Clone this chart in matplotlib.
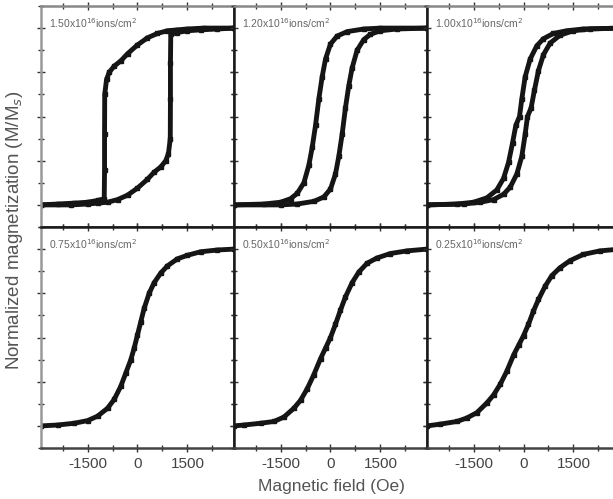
"""
plot.py

Normalized hysteresis loops for six ion fluences.
"""

import matplotlib.pyplot as plt
import numpy as np
from matplotlib.ticker import MultipleLocator


plt.rcParams["font.family"] = ["Liberation Sans", "DejaVu Sans"]
plt.rcParams["axes.unicode_minus"] = False

fluence_labels = [
    "1.50x10$^{16}$ions/cm$^{2}$",
    "1.20x10$^{16}$ions/cm$^{2}$",
    "1.00x10$^{16}$ions/cm$^{2}$",
    "0.75x10$^{16}$ions/cm$^{2}$",
    "0.50x10$^{16}$ions/cm$^{2}$",
    "0.25x10$^{16}$ions/cm$^{2}$",
]

# 1.50e16: square loop with abrupt switching (upper branch, read left to right)
h_150 = [-2900, -2400, -1900, -1500, -1200, -1000, -990, -990, -985, -930,
         -850, -700, -500, -300, 0, 300, 600, 900, 1200, 1500, 2000, 2900]
m_150 = [-1.00, -0.99, -0.98, -0.97, -0.95, -0.93, -0.60, -0.20, 0.25, 0.42,
         0.50, 0.57, 0.63, 0.71, 0.81, 0.89, 0.94, 0.97, 0.98, 0.99, 1.00, 1.00]

# 1.20e16: open S loop (descending branch)
h_120 = [-2900, -2000, -1500, -1200, -1000, -800, -650, -550, -450, -350,
         -250, -150, 0, 200, 500, 1000, 1500, 2900]
m_120 = [-1.00, -0.99, -0.97, -0.93, -0.87, -0.75, -0.55, -0.35, -0.10, 0.20,
         0.45, 0.65, 0.82, 0.91, 0.96, 0.99, 1.00, 1.00]

# 1.00e16: narrow loop (descending branch)
h_100 = [-2900, -2000, -1500, -1100, -800, -600, -450, -330, -230, -120,
         -50, 50, 200, 400, 600, 900, 1300, 1800, 2900]
m_100 = [-1.00, -0.99, -0.97, -0.92, -0.83, -0.70, -0.52, -0.30, -0.10, 0.00,
         0.20, 0.45, 0.65, 0.80, 0.88, 0.94, 0.97, 0.99, 1.00]

# 0.75e16
h_075 = [-2900, -2400, -1900, -1500, -1200, -900, -700, -500, -350, -200,
         -100, 0, 100, 200, 350, 500, 700, 900, 1200, 1500, 1900, 2400, 2900]
m_075 = [-1.00, -0.99, -0.97, -0.94, -0.89, -0.80, -0.70, -0.55, -0.40, -0.25,
         -0.12, 0.03, 0.18, 0.33, 0.50, 0.62, 0.73, 0.81, 0.89, 0.93, 0.97,
         0.99, 1.00]

# 0.50e16
h_050 = [-2900, -2600, -2100, -1700, -1400, -1100, -900, -700, -500, -300,
         -150, 0, 150, 300, 450, 650, 850, 1100, 1400, 1800, 2300, 2900]
m_050 = [-1.00, -0.99, -0.97, -0.95, -0.90, -0.80, -0.71, -0.58, -0.42, -0.24,
         -0.12, 0.00, 0.15, 0.31, 0.46, 0.62, 0.74, 0.84, 0.90, 0.95, 0.98,
         1.00]

# 0.25e16
h_025 = [-2900, -2500, -2000, -1700, -1400, -1100, -900, -700, -500, -300,
         -150, 0, 150, 300, 450, 650, 850, 1100, 1400, 1800, 2300, 2900]
m_025 = [-1.00, -0.98, -0.95, -0.91, -0.85, -0.74, -0.65, -0.53, -0.38, -0.20,
         -0.09, 0.02, 0.15, 0.30, 0.43, 0.58, 0.70, 0.79, 0.87, 0.94, 0.98,
         1.00]

loops = [
    (h_150, m_150, True),
    (h_120, m_120, True),
    (h_100, m_100, True),
    (h_075, m_075, False),
    (h_050, m_050, False),
    (h_025, m_025, False),
]

fig = plt.figure(figsize=(6.13, 4.99), dpi=100)

col_left = [41 / 613, 234 / 613, 427 / 613]
col_width = 193 / 613
row_bottom = [(499 - 227) / 499, (499 - 448) / 499]
row_height = 221 / 499

for i, (h, m, has_loop) in enumerate(loops):
    row, col = divmod(i, 3)

    ax = fig.add_axes([col_left[col], row_bottom[row], col_width, row_height])

    h = np.array(h)
    m = np.array(m)

    ax.plot(h, m, color="#151515", lw=3.5, marker="s", ms=2.5)

    if has_loop:
        # ascending branch mirrors the descending one
        ax.plot(-h[::-1], -m[::-1], color="#151515", lw=3.5, marker="s", ms=2.5)

    ax.set_xlim(-2900, 2900)
    ax.set_ylim(-1.25, 1.25)

    ax.xaxis.set_major_locator(MultipleLocator(1500))
    ax.xaxis.set_minor_locator(MultipleLocator(750))
    ax.yaxis.set_major_locator(MultipleLocator(0.5))
    ax.yaxis.set_minor_locator(MultipleLocator(0.25))

    ax.tick_params(
        which="both",
        direction="inout",
        top=True,
        right=True,
        labelleft=False,
        labelbottom=(row == 1),
        labelsize=11,
        labelcolor="#444444",
        color="#333333",
    )
    ax.tick_params(which="major", length=6, width=1.0)
    ax.tick_params(which="minor", length=4, width=1.0)

    for side in ["left", "right", "top", "bottom"]:
        ax.spines[side].set_color("#1a1a1a")
        ax.spines[side].set_linewidth(1.8)

    if row == 0:
        ax.spines["top"].set_color("#888888")
    if col == 0:
        ax.spines["left"].set_color("#999999")
    if row == 1:
        ax.spines["bottom"].set_color("#444444")

    ax.text(
        0.04,
        0.90,
        fluence_labels[i],
        transform=ax.transAxes,
        fontsize=7.5,
        color="#666666",
    )

fig.text(
    15 / 613,
    (499 - 230) / 499,
    "Normalized magnetization (M/M$_s$)",
    rotation=90,
    ha="center",
    va="center",
    fontsize=13.5,
    color="#555555",
)

fig.text(
    331 / 613,
    (499 - 487) / 499,
    "Magnetic field (Oe)",
    ha="center",
    va="center",
    fontsize=12.5,
    color="#555555",
)

fig.savefig("out.png", dpi=100)
